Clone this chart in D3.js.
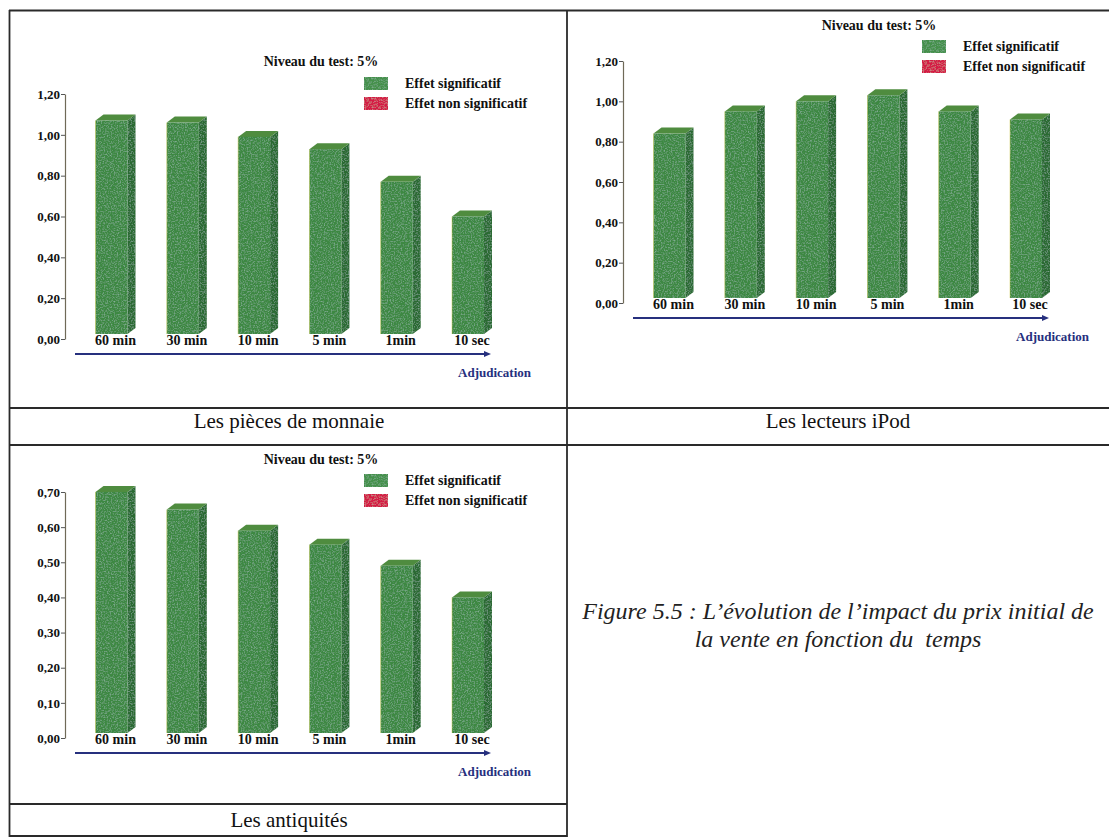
<!DOCTYPE html>
<html>
<head>
<meta charset="utf-8">
<script src="https://cdn.jsdelivr.net/npm/d3@7/dist/d3.min.js"></script>
<style>
  html, body { margin: 0; padding: 0; background: #ffffff; }
  svg { display: block; }
  text { font-family: "Liberation Serif", "Times New Roman", serif; }
</style>
</head>
<body>
<svg id="fig" width="1109" height="837"></svg>
<script>
// Auction closing times (x categories)
const categories = ["60 min", "30 min", "10 min", "5 min", "1min", "10 sec"];

// Impact of the opening price, per product family
const coinValues    = [1.07, 1.06, 0.99, 0.93, 0.77, 0.60];
const ipodValues    = [0.84, 0.95, 1.00, 1.03, 0.95, 0.91];
const antiqueValues = [0.70, 0.65, 0.59, 0.55, 0.49, 0.40];

// Y tick values
const ticksWide   = [0, 0.2, 0.4, 0.6, 0.8, 1.0, 1.2];
const ticksNarrow = [0, 0.1, 0.2, 0.3, 0.4, 0.5, 0.6, 0.7];

// Texts
const testLevel     = "Niveau du test: 5%";
const legendLabels  = ["Effet significatif", "Effet non significatif"];
const arrowLabel    = "Adjudication";
const panelCaptions = ["Les pièces de monnaie", "Les lecteurs iPod", "Les antiquités"];
const figureCaption = ["Figure 5.5 : L’évolution de l’impact du prix initial de",
                       "la vente en fonction du\u00A0\u00A0temps"];

const svg = d3.select("#fig");
const defs = svg.append("defs");

// light mottled print texture for the bar faces
const grain = defs.append("filter").attr("id", "grain")
  .attr("x", 0).attr("y", 0).attr("width", 1).attr("height", 1);
grain.append("feTurbulence").attr("type", "fractalNoise")
  .attr("baseFrequency", 0.7).attr("numOctaves", 2).attr("seed", 7).attr("result", "noise");
grain.append("feColorMatrix").attr("in", "noise").attr("type", "matrix")
  .attr("values", "0 0 0 0 0.42  0 0 0 0 0.62  0 0 0 0 0.55  0 0 0 1.1 -0.5")
  .attr("result", "speck");
grain.append("feComposite").attr("in", "speck").attr("in2", "SourceGraphic")
  .attr("operator", "in").attr("result", "speckIn");
const merge = grain.append("feMerge");
merge.append("feMergeNode").attr("in", "SourceGraphic");
merge.append("feMergeNode").attr("in", "speckIn");

const colors = {
  front: "#3e8843",
  side: "#2c6a31",
  top: "#4f8c3f",
  edge: "#c9c84a",
  sig: "#45904c",
  nonsig: "#d41e44",
  navy: "#26307e",
  axis: "#6f6a58",
  grid: "#2a2a2a"
};

const fmt = d => d3.format(".2f")(d).replace(".", ",");

function drawPanel(cfg) {
  const g = svg.append("g");
  const y = d3.scaleLinear().domain([0, cfg.max]).range([cfg.y0, cfg.yTop]);
  const xc = d3.scalePoint().domain(categories)
    .range([cfg.axisX + 50.5, cfg.axisX + 407]);

  const frontW = 32, depth = 8, rise = 6;

  // y axis
  const ax = g.append("g")
    .attr("transform", `translate(${cfg.axisX},0)`)
    .call(d3.axisLeft(y).tickValues(cfg.ticks).tickFormat(fmt).tickSize(4).tickSizeOuter(0));
  ax.select(".domain").attr("stroke", colors.axis).attr("stroke-width", 1.2);
  ax.selectAll(".tick line").attr("stroke", "#555").attr("stroke-width", 1);
  ax.selectAll(".tick text")
    .attr("x", -5)
    .attr("fill", "#111")
    .style("font-family", "'Liberation Serif', 'Times New Roman', serif")
    .style("font-weight", "bold")
    .style("font-size", "13px");

  // 3D bars
  const bars = g.append("g").selectAll("g.bar")
    .data(cfg.values.map((v, i) => ({ v, c: categories[i] })))
    .join("g").attr("class", "bar");

  bars.each(function (d) {
    const b = d3.select(this);
    const xl = xc(d.c) - (frontW + depth) / 2;
    const xr = xl + frontW;
    const yt = y(d.v);
    const yb = cfg.y0 - 5;
    b.append("polygon")
      .attr("points", [[xr, yt], [xr + depth, yt - rise], [xr + depth, yb - rise], [xr, yb]].join(" "))
      .attr("fill", colors.side).attr("filter", "url(#grain)");
    b.append("polygon")
      .attr("points", [[xl, yt], [xl + depth, yt - rise], [xr + depth, yt - rise], [xr, yt]].join(" "))
      .attr("fill", colors.top);
    b.append("rect")
      .attr("x", xl).attr("y", yt).attr("width", frontW).attr("height", yb - yt)
      .attr("fill", colors.front).attr("filter", "url(#grain)");
    b.append("line")
      .attr("x1", xl).attr("x2", xl).attr("y1", yt).attr("y2", yb)
      .attr("stroke", colors.edge).attr("stroke-width", 0.8).attr("opacity", 0.6);
  });

  // category labels
  g.append("g").selectAll("text")
    .data(categories).join("text")
    .attr("x", d => xc(d)).attr("y", cfg.y0 + 6)
    .attr("text-anchor", "middle")
    .attr("font-weight", "bold").attr("font-size", 14).attr("fill", "#111")
    .text(d => d);

  // time arrow
  const ay = cfg.y0 + 15;
  g.append("line")
    .attr("x1", cfg.axisX + 10).attr("x2", cfg.axisX + 421)
    .attr("y1", ay).attr("y2", ay)
    .attr("stroke", colors.navy).attr("stroke-width", 2);
  g.append("polygon")
    .attr("points", [[cfg.axisX + 426, ay], [cfg.axisX + 419, ay - 3], [cfg.axisX + 419, ay + 3]].join(" "))
    .attr("fill", colors.navy);
  g.append("text")
    .attr("x", cfg.axisX + 466).attr("y", ay + 23)
    .attr("text-anchor", "end")
    .attr("font-weight", "bold").attr("font-size", 13).attr("fill", colors.navy)
    .text(arrowLabel);

  // test level + legend
  g.append("text")
    .attr("x", cfg.axisX + 256).attr("y", cfg.titleY + 4.5)
    .attr("text-anchor", "middle")
    .attr("font-weight", "bold").attr("font-size", 14).attr("fill", "#111")
    .text(testLevel);
  const leg = g.append("g").selectAll("g")
    .data(legendLabels).join("g")
    .attr("transform", (d, i) => `translate(${cfg.axisX + 299},${cfg.legendY + i * 20})`);
  leg.append("rect")
    .attr("width", 24).attr("height", 13)
    .attr("fill", (d, i) => i === 0 ? colors.sig : colors.nonsig)
    .attr("filter", "url(#grain)");
  leg.append("text")
    .attr("x", 41).attr("y", 11)
    .attr("font-weight", "bold").attr("font-size", 14).attr("fill", "#111")
    .text(d => d);
}

drawPanel({ values: coinValues, ticks: ticksWide, max: 1.2,
  axisX: 65, y0: 339, yTop: 94, titleY: 61, legendY: 77 });
drawPanel({ values: ipodValues, ticks: ticksWide, max: 1.2,
  axisX: 623, y0: 303, yTop: 61, titleY: 25, legendY: 40 });
drawPanel({ values: antiqueValues, ticks: ticksNarrow, max: 0.7,
  axisX: 65, y0: 738, yTop: 492, titleY: 459, legendY: 474 });

// table frame
const frame = svg.append("g").attr("stroke", colors.grid).attr("stroke-width", 1.8).attr("fill", "none");
const hLines = [[9, 1109, 10.5], [9, 1109, 408], [9, 1109, 445], [9, 567, 804], [9, 567, 836]];
const vLines = [[9.5, 10, 837], [567, 10, 837]];
frame.selectAll("line.h").data(hLines).join("line").attr("class", "h")
  .attr("x1", d => d[0]).attr("x2", d => d[1]).attr("y1", d => d[2]).attr("y2", d => d[2]);
frame.selectAll("line.v").data(vLines).join("line").attr("class", "v")
  .attr("x1", d => d[0]).attr("x2", d => d[0]).attr("y1", d => d[1]).attr("y2", d => d[2]);

// panel captions
const capPos = [[289, 428], [838, 428], [289, 827]];
svg.append("g").selectAll("text").data(panelCaptions).join("text")
  .attr("x", (d, i) => capPos[i][0]).attr("y", (d, i) => capPos[i][1])
  .attr("text-anchor", "middle").attr("font-size", 21).attr("fill", "#111")
  .text(d => d);

// figure caption
svg.append("g").selectAll("text").data(figureCaption).join("text")
  .attr("x", 838).attr("y", (d, i) => 619 + i * 28)
  .attr("text-anchor", "middle").attr("font-size", 24).attr("font-style", "italic").attr("fill", "#222")
  .text(d => d);
</script>
</body>
</html>
